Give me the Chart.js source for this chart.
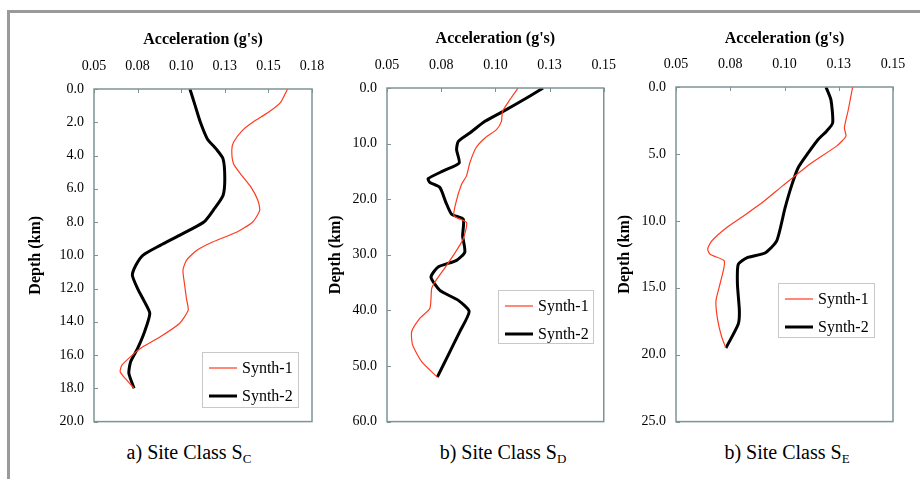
<!DOCTYPE html>
<html>
<head>
<meta charset="utf-8">
<script src="https://cdn.jsdelivr.net/npm/chart.js@4.4.1/dist/chart.umd.min.js"></script>
<style>
  html, body { margin: 0; padding: 0; background: #fff; }
  #page { position: relative; width: 920px; height: 479px; overflow: hidden; }
  #frame { position: absolute; left: 7px; top: 10px; right: -5px; bottom: -10px;
           border-top: 3px solid #9a9a9a; border-left: 3px solid #9a9a9a; }
  canvas { position: absolute; }
  .caption { position: absolute; top: 440px; width: 240px; line-height: 24px; text-align: center;
             font-family: "Liberation Serif", "Times New Roman", serif; font-size: 20px; color: #000; }
  .caption sub { font-size: 13px; vertical-align: -4px; line-height: 0; }
</style>
</head>
<body>
<div id="page">
  <div id="frame"></div>
  <canvas id="chartC" style="left:10px;top:20px" width="330" height="420"></canvas>
  <canvas id="chartD" style="left:320px;top:20px" width="310" height="420"></canvas>
  <canvas id="chartE" style="left:608px;top:20px" width="312" height="420"></canvas>
  <div class="caption" style="left:69px">a) Site Class S<sub>C</sub></div>
  <div class="caption" style="left:383px">b) Site Class S<sub>D</sub></div>
  <div class="caption" style="left:667px">b) Site Class S<sub>E</sub></div>
</div>
<script>
// values: depth (km) and acceleration (g's)
const seriesLabels = ['Synth-1', 'Synth-2'];

const scSynth1Depth = [0, 0.8, 1.4, 2.0, 2.5, 3.2, 3.7, 4.5, 5.1, 5.9, 6.7, 7.3, 8.0, 8.6, 9.2, 9.7, 10.3, 10.9, 11.8, 12.6, 13.3, 14.1, 14.9, 15.5, 16.0, 16.6, 17.0, 17.3, 18.0];
const scSynth1Accel = [0.161, 0.157, 0.150, 0.141, 0.135, 0.130, 0.129, 0.130, 0.134, 0.140, 0.144, 0.145, 0.141, 0.132, 0.118, 0.109, 0.103, 0.101, 0.102, 0.103, 0.104, 0.099, 0.088, 0.078, 0.072, 0.066, 0.065, 0.067, 0.073];
const scSynth2Depth = [0, 1.0, 2.0, 3.0, 3.6, 4.2, 5.4, 6.4, 7.2, 8.0, 8.8, 9.4, 10.0, 10.6, 11.2, 12.0, 12.8, 13.5, 14.6, 15.6, 16.4, 17.1, 18.0];
const scSynth2Accel = [0.105, 0.108, 0.111, 0.115, 0.120, 0.124, 0.125, 0.124, 0.119, 0.113, 0.099, 0.088, 0.078, 0.074, 0.072, 0.075, 0.079, 0.082, 0.079, 0.075, 0.071, 0.070, 0.073];

const sdSynth1Depth = [0, 2.1, 4.2, 6.0, 7.5, 9.0, 10.8, 13.5, 15.8, 17.3, 20.6, 23.0, 24.2, 27.1, 29.2, 31.9, 34.9, 36.1, 39.6, 41.4, 43.8, 46.2, 49.2, 52.0];
const sdSynth1Accel = [0.1105, 0.1067, 0.1033, 0.1028, 0.1005, 0.0952, 0.091, 0.0882, 0.0867, 0.0844, 0.0818, 0.0809, 0.0867, 0.0852, 0.0821, 0.0775, 0.0721, 0.0706, 0.0698, 0.0652, 0.0614, 0.0618, 0.066, 0.0732];
const sdSynth2Depth = [0, 1.8, 4.2, 6.0, 8.1, 9.6, 11.1, 13.5, 14.9, 16.3, 17.0, 17.9, 20.6, 22.7, 23.6, 26.6, 29.5, 31.0, 32.2, 34.0, 36.4, 38.2, 40.2, 43.8, 48.0, 52.0];
const sdSynth2Accel = [0.122, 0.1144, 0.1036, 0.0952, 0.0882, 0.0829, 0.0821, 0.0833, 0.076, 0.069, 0.0698, 0.0744, 0.0772, 0.0798, 0.0852, 0.0849, 0.0859, 0.0821, 0.0736, 0.0703, 0.0744, 0.0829, 0.0879, 0.0836, 0.0783, 0.0732];

const seSynth1Depth = [0, 1.7, 3.05, 3.67, 4.4, 5.75, 7.35, 8.58, 9.56, 10.5, 11.5, 12.1, 12.5, 12.96, 13.5, 14.7, 16.0, 17.4, 18.7, 19.5];
const seSynth1Accel = [0.1314, 0.1294, 0.1276, 0.1283, 0.1241, 0.1118, 0.0994, 0.0902, 0.0818, 0.0734, 0.0665, 0.0646, 0.0657, 0.0721, 0.0721, 0.0703, 0.0684, 0.0692, 0.0711, 0.073];
const seSynth2Depth = [0, 0.96, 2.68, 3.3, 3.9, 4.9, 6.0, 7.35, 9.07, 11.5, 12.4, 12.76, 13.25, 14.7, 16.7, 17.7, 19.5];
const seSynth2Accel = [0.1191, 0.1214, 0.1222, 0.1194, 0.1156, 0.111, 0.1064, 0.1033, 0.1002, 0.0964, 0.091, 0.0826, 0.0787, 0.0783, 0.0792, 0.0787, 0.073];

// tick labels as printed (Excel rounds 0.075 -> 0.08 etc.)
const scAccelTicks = ['0.05', '0.08', '0.10', '0.13', '0.15', '0.18'];
const sdAccelTicks = ['0.05', '0.08', '0.10', '0.13', '0.15'];
const seAccelTicks = ['0.05', '0.08', '0.10', '0.13', '0.15'];

const fontFamily = '"Liberation Serif", "Times New Roman", serif';
Chart.defaults.font.family = fontFamily;
Chart.defaults.color = '#000';

const toPoints = (depth, accel) => depth.map((d, i) => ({ x: accel[i], y: d }));

// plot frame + small inside tick marks, like the excel original
const frameTicks = {
  id: 'frameTicks',
  afterDatasetsDraw(chart) {
    const { ctx, chartArea: a, scales } = chart;
    ctx.save();
    ctx.strokeStyle = '#7d9494';
    ctx.lineWidth = 1.5;
    ctx.strokeRect(a.left, a.top, a.right - a.left, a.bottom - a.top);
    ctx.lineWidth = 1;
    ctx.beginPath();
    scales.x.ticks.forEach(t => {
      const px = Math.round(scales.x.getPixelForValue(t.value)) + 0.5;
      ctx.moveTo(px, a.top); ctx.lineTo(px, a.top + 4);
    });
    scales.y.ticks.forEach(t => {
      const py = Math.round(scales.y.getPixelForValue(t.value)) + 0.5;
      ctx.moveTo(a.left, py); ctx.lineTo(a.left + 4, py);
    });
    ctx.stroke();
    ctx.restore();
  }
};

// boxed legend sitting inside the plot area
const boxLegend = {
  id: 'boxLegend',
  afterDraw(chart, args, opts) {
    const { ctx, chartArea } = chart;
    const x = chartArea.left + opts.x, y = chartArea.top + opts.y;
    ctx.save();
    ctx.fillStyle = '#fff';
    ctx.fillRect(x, y, opts.w, opts.h);
    ctx.strokeStyle = '#c8c8c8';
    ctx.lineWidth = 1;
    ctx.strokeRect(x + 0.5, y + 0.5, opts.w, opts.h);
    chart.data.datasets.forEach((ds, i) => {
      const ry = y + 16 + i * 28;
      ctx.strokeStyle = ds.borderColor;
      ctx.lineWidth = ds.borderWidth;
      ctx.beginPath();
      ctx.moveTo(x + 7, ry); ctx.lineTo(x + 35, ry);
      ctx.stroke();
      ctx.fillStyle = '#000';
      ctx.font = '16px ' + fontFamily;
      ctx.textBaseline = 'middle';
      ctx.fillText(ds.label, x + 40, ry + 1);
    });
    ctx.restore();
  }
};

function makePanel(id, p) {
  new Chart(document.getElementById(id), {
    type: 'scatter',
    data: {
      datasets: [
        { label: seriesLabels[0], data: toPoints(p.d1, p.a1), showLine: true, borderColor: '#ff3b1f',
          borderWidth: 1.2, pointRadius: 0, tension: 0.2 },
        { label: seriesLabels[1], data: toPoints(p.d2, p.a2), showLine: true, borderColor: '#000',
          borderWidth: 3, pointRadius: 0, tension: 0.2 }
      ]
    },
    options: {
      responsive: false,
      animation: false,
      events: [],
      layout: { padding: { left: 0, top: 0, right: p.padRight, bottom: p.padBottom } },
      plugins: {
        legend: { display: false },
        tooltip: { enabled: false },
        boxLegend: p.legend
      },
      scales: {
        x: {
          type: 'linear',
          position: 'top',
          min: 0.05,
          max: p.xMax,
          grid: { display: false, drawTicks: false },
          border: { display: false },
          ticks: {
            stepSize: 0.025,
            autoSkip: false,
            maxRotation: 0,
            padding: 14,
            font: { size: 14 },
            callback: (v, i) => p.xLabels[i]
          },
          title: {
            display: true,
            text: "Acceleration (g's)",
            font: { size: 16, weight: 'bold' },
            padding: { top: p.xTitlePad, bottom: 0 }
          },
          afterFit: s => { s.height = p.xH; }
        },
        y: {
          type: 'linear',
          reverse: true,
          min: 0,
          max: p.yMax,
          grid: { display: false, drawTicks: false },
          border: { display: false },
          ticks: {
            stepSize: p.yStep,
            autoSkip: false,
            padding: 10,
            font: { size: 14 },
            callback: v => v.toFixed(1)
          },
          title: {
            display: true,
            text: 'Depth (km)',
            font: { size: 16, weight: 'bold' },
            padding: { top: p.yTitlePad, bottom: 0 }
          },
          afterFit: s => { s.width = p.yW; }
        }
      }
    },
    plugins: [frameTicks, boxLegend]
  });
}

makePanel('chartC', {
  d1: scSynth1Depth, a1: scSynth1Accel, d2: scSynth2Depth, a2: scSynth2Accel,
  xMax: 0.175, xLabels: scAccelTicks, yMax: 20, yStep: 2,
  yW: 84, xH: 69, padRight: 28, padBottom: 16, xTitlePad: 10, yTitlePad: 16,
  legend: { x: 108, y: 263, w: 96, h: 55 }
});
makePanel('chartD', {
  d1: sdSynth1Depth, a1: sdSynth1Accel, d2: sdSynth2Depth, a2: sdSynth2Accel,
  xMax: 0.15, xLabels: sdAccelTicks, yMax: 60, yStep: 10,
  yW: 67, xH: 68, padRight: 26, padBottom: 16, xTitlePad: 9, yTitlePad: 6,
  legend: { x: 111, y: 202, w: 95, h: 53 }
});
makePanel('chartE', {
  d1: seSynth1Depth, a1: seSynth1Accel, d2: seSynth2Depth, a2: seSynth2Accel,
  xMax: 0.15, xLabels: seAccelTicks, yMax: 25, yStep: 5,
  yW: 68, xH: 67, padRight: 27, padBottom: 14, xTitlePad: 9, yTitlePad: 7,
  legend: { x: 102, y: 196, w: 96, h: 54 }
});
</script>
</body>
</html>
